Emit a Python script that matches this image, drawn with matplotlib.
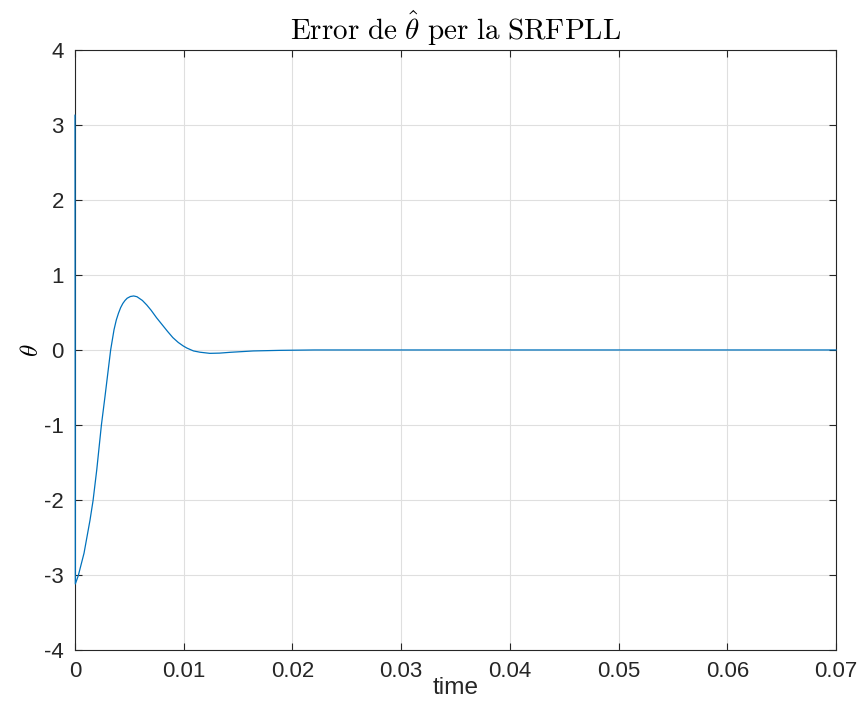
import matplotlib.pyplot as plt
import matplotlib

matplotlib.rc('font', family='Liberation Sans', size=16)
matplotlib.rcParams['mathtext.fontset'] = 'cm'
matplotlib.rcParams['axes.unicode_minus'] = False

# values
time = [0.0, 0.00003, 0.0003, 0.00083, 0.00138, 0.00166, 0.0020, 0.00243,
        0.00276, 0.00328, 0.00359, 0.0038, 0.004, 0.0042, 0.0044, 0.0046,
        0.0048, 0.0051, 0.0054, 0.0057, 0.0062, 0.0066, 0.0070, 0.0075,
        0.0080, 0.0085, 0.0090, 0.0095, 0.00996, 0.0103, 0.0109, 0.0115,
        0.0124, 0.0133, 0.0143, 0.0164, 0.0189, 0.022, 0.03, 0.05, 0.07]
err = [3.13, -3.12, -3.01, -2.71, -2.27, -2.01, -1.6, -1.0,
       -0.62, 0.0, 0.27, 0.40, 0.49, 0.565, 0.62, 0.66,
       0.69, 0.713, 0.72, 0.71, 0.66, 0.6, 0.53, 0.43,
       0.34, 0.25, 0.165, 0.10, 0.053, 0.025, -0.013, -0.03,
       -0.045, -0.042, -0.031, -0.013, -0.005, 0.0, 0.0, 0.0, 0.0]

xticks = [0, 0.01, 0.02, 0.03, 0.04, 0.05, 0.06, 0.07]
xticklabels = ['0', '0.01', '0.02', '0.03', '0.04', '0.05', '0.06', '0.07']
yticks = [-4, -3, -2, -1, 0, 1, 2, 3, 4]

fig = plt.figure(figsize=(8.6, 7.23), dpi=100)
ax = fig.add_axes([0.0872, 0.101, 0.8849, 0.8299])

ax.plot(time, err, color='#0072BD', linewidth=0.9, zorder=5, clip_on=False)

ax.set_xlim(0, 0.07)
ax.set_ylim(-4, 4)
ax.set_xticks(xticks)
ax.set_xticklabels(xticklabels)
ax.set_yticks(yticks)
ax.set_yticklabels([str(v) for v in yticks])

ax.grid(True, color='#dfdfdf', linewidth=0.8)
ax.set_axisbelow(True)
ax.tick_params(direction='in', length=5, width=0.8, top=True, right=True,
               colors='#262626', labelcolor='#262626', labelsize=16)
ax.tick_params(axis='x', pad=8)
ax.tick_params(axis='y', pad=8)
for s in ax.spines.values():
    s.set_color('#262626')
    s.set_linewidth(0.8)

ax.set_title(r'$\mathrm{Error\ de\ }\hat{\theta}\mathrm{\ per\ la\ SRFPLL}$',
             fontsize=21, pad=7)
ax.set_xlabel('time', fontsize=17.6, color='#262626', labelpad=-4)
ax.set_ylabel(r'$\theta$', fontsize=18, labelpad=1)

fig.savefig('out.png', dpi=100)
plt.close(fig)
